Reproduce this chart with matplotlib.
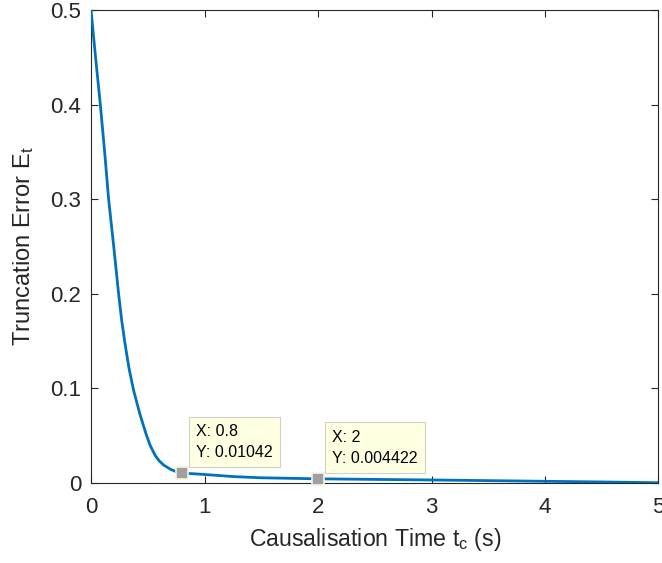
import matplotlib
matplotlib.use("Agg")
import matplotlib.pyplot as plt

# Data
t_c = [0.0, 0.04, 0.082, 0.12, 0.155, 0.20, 0.243, 0.27, 0.30, 0.335, 0.375, 0.43,
       0.487, 0.52, 0.566, 0.60, 0.64, 0.70, 0.75,
       0.8, 0.9, 1.0, 1.25, 1.5, 2.0, 2.5, 3.0, 3.5, 4.0, 4.5, 5.0]
err = [0.5, 0.45, 0.40, 0.35, 0.30, 0.25, 0.20, 0.172, 0.147, 0.121, 0.098, 0.073,
       0.051, 0.040, 0.029, 0.0235, 0.019, 0.0145, 0.0120,
       0.01042, 0.0098, 0.0090, 0.0068, 0.0055, 0.004422, 0.0038, 0.0032, 0.0025, 0.0018, 0.0011, 0.0003]

tip_x = [0.8, 2]
tip_y = [0.01042, 0.004422]
tip_text = ["X: 0.8\nY: 0.01042", "X: 2\nY: 0.004422"]

xticks = [0, 1, 2, 3, 4, 5]
yticks = [0, 0.1, 0.2, 0.3, 0.4, 0.5]

plt.rcParams['font.family'] = ['Liberation Sans', 'DejaVu Sans']
plt.rcParams['mathtext.fontset'] = 'custom'
plt.rcParams['mathtext.rm'] = 'Liberation Sans'
plt.rcParams['mathtext.it'] = 'Liberation Sans'

fig = plt.figure(figsize=(6.62, 5.63), dpi=100)
ax = fig.add_axes([0.1375, 0.1421, 0.8572, 0.8401])

ax.plot(t_c, err, color='#0072BD', lw=2.0, solid_capstyle='round',
        solid_joinstyle='round', zorder=3)

for x, y, s in zip(tip_x, tip_y, tip_text):
    ax.plot([x], [y], marker='s', ms=9, mfc='#A0A0A0', mec='#F4F4E4', mew=1.2,
            ls='none', zorder=5, clip_on=False)
    ax.annotate(s, xy=(x, y), xytext=(10, 9.5), textcoords='offset points',
                ha='left', va='bottom', fontsize=11.5, linespacing=1.5,
                color='#000000', zorder=6,
                bbox=dict(boxstyle='square,pad=0.45', fc='#FFFFE1', ec='#D0D0C8', lw=0.8))

ax.set_xlim(0, 5)
ax.set_ylim(0, 0.5)
ax.set_xticks(xticks)
ax.set_yticks(yticks)
ax.set_xticklabels([str(v) for v in xticks])
ax.set_yticklabels(['0' if v == 0 else f'{v:g}' for v in yticks])

ax.tick_params(direction='in', length=5, width=0.8, colors='#262626',
               labelsize=16, top=True, right=True)
ax.tick_params(axis='x', pad=10)
ax.tick_params(axis='y', pad=7)
for sp in ax.spines.values():
    sp.set_color('#262626')
    sp.set_linewidth(0.8)

ax.set_xlabel(r'Causalisation Time t$_{\mathregular{c}}$ (s)', fontsize=16.7, color='#262626', labelpad=6)
ax.set_ylabel(r'Truncation Error E$_{\mathregular{t}}$', fontsize=17, color='#262626', labelpad=10)

fig.savefig('out.png', dpi=100)
